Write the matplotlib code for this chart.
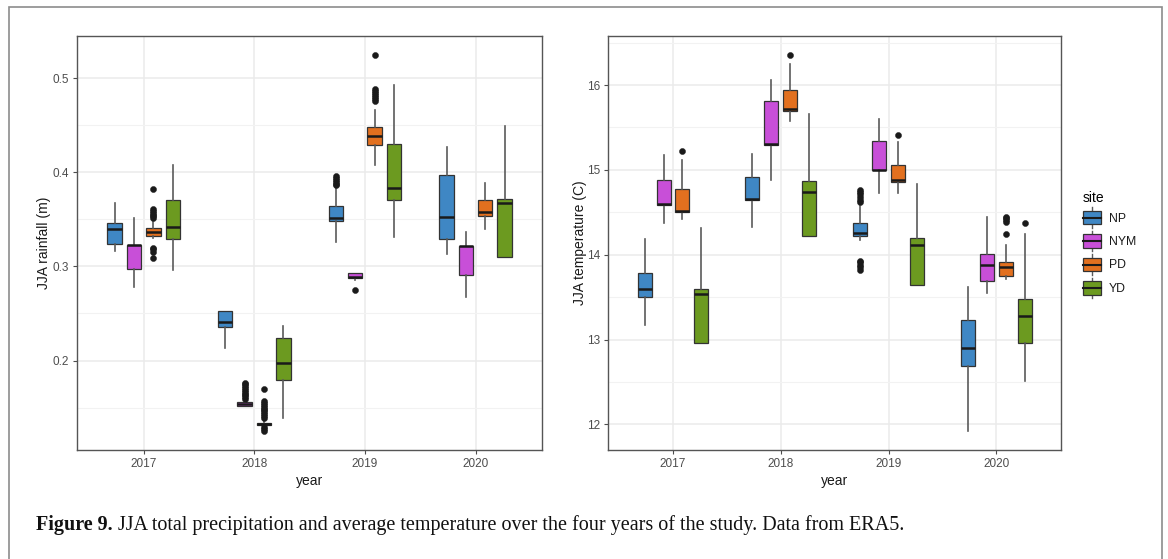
import matplotlib
matplotlib.use('Agg')
import matplotlib.pyplot as plt
from matplotlib.legend_handler import HandlerBase
from matplotlib.lines import Line2D
from matplotlib.patches import Patch, Rectangle
from matplotlib.ticker import FixedLocator, FormatStrFormatter

SITES = ['NP', 'NYM', 'PD', 'YD']
YEARS = ['2017', '2018', '2019', '2020']
COLORS = {'NP': '#3f87c4', 'NYM': '#c84fd8', 'PD': '#e2701f', 'YD': '#6c9a20'}

# JJA rainfall (m): box summary per site, one value per year
rain_whislo = {'NP': [0.316, 0.2134, 0.3255, 0.313],
               'NYM': [0.2777, 0.1516, 0.2855, 0.2675],
               'PD': [0.330, 0.1300, 0.4076, 0.3398],
               'YD': [0.296, 0.1386, 0.3317, 0.310]}
rain_q1 = {'NP': [0.3243, 0.236, 0.348, 0.3296],
           'NYM': [0.2975, 0.1516, 0.2872, 0.291],
           'PD': [0.3327, 0.1318, 0.4288, 0.3536],
           'YD': [0.329, 0.179, 0.370, 0.310]}
rain_med = {'NP': [0.3398, 0.2406, 0.3515, 0.352],
            'NYM': [0.3225, 0.1535, 0.289, 0.3215],
            'PD': [0.3363, 0.133, 0.439, 0.358],
            'YD': [0.342, 0.1975, 0.3833, 0.367]}
rain_q3 = {'NP': [0.3459, 0.2522, 0.3645, 0.3974],
           'NYM': [0.3232, 0.1558, 0.2929, 0.322],
           'PD': [0.3412, 0.1342, 0.448, 0.370],
           'YD': [0.370, 0.224, 0.4295, 0.372]}
rain_whishi = {'NP': [0.3677, 0.2530, 0.383, 0.427],
               'NYM': [0.3518, 0.1575, 0.2929, 0.336],
               'PD': [0.347, 0.1365, 0.466, 0.389],
               'YD': [0.408, 0.2363, 0.493, 0.449]}
rain_fliers = {
    'NP': [[], [], [0.386, 0.388, 0.390, 0.392, 0.394, 0.396], []],
    'NYM': [[], [0.159, 0.161, 0.163, 0.165, 0.167, 0.169, 0.171, 0.173,
                 0.175, 0.1765], [0.2752], []],
    'PD': [[0.351, 0.353, 0.355, 0.357, 0.359, 0.361, 0.382,
            0.3155, 0.318, 0.320, 0.309],
           [0.170, 0.157, 0.155, 0.153, 0.151, 0.149, 0.147, 0.145, 0.143,
            0.141, 0.139, 0.129, 0.127, 0.125],
           [0.476, 0.478, 0.480, 0.482, 0.484, 0.486, 0.488, 0.525], []],
    'YD': [[], [], [], []],
}

# JJA temperature (C)
temp_whislo = {'NP': [13.169, 14.326, 14.177, 11.92],
               'NYM': [14.369, 14.877, 14.727, 13.547],
               'PD': [14.417, 15.576, 14.727, 13.717],
               'YD': [12.962, 14.224, 13.646, 12.517]}
temp_q1 = {'NP': [13.504, 14.65, 14.22, 12.694],
           'NYM': [14.59, 15.29, 15.0, 13.689],
           'PD': [14.507, 15.70, 14.857, 13.744],
           'YD': [12.962, 14.224, 13.646, 12.962]}
temp_med = {'NP': [13.594, 14.656, 14.255, 12.903],
            'NYM': [14.597, 15.3, 15.003, 13.882],
            'PD': [14.519, 15.714, 14.877, 13.854],
            'YD': [13.532, 14.743, 14.12, 13.272]}
temp_q3 = {'NP': [13.783, 14.916, 14.378, 13.225],
           'NYM': [14.877, 15.812, 15.34, 14.012],
           'PD': [14.774, 15.942, 15.054, 13.913],
           'YD': [13.599, 14.865, 14.2, 13.48]}
temp_whishi = {'NP': [14.184, 15.19, 14.58, 13.618],
               'NYM': [15.172, 16.057, 15.596, 14.444],
               'PD': [15.12, 16.25, 15.33, 14.118],
               'YD': [14.314, 15.664, 14.838, 14.248]}
temp_fliers = {
    'NP': [[], [], [14.62, 14.65, 14.68, 14.71, 14.74, 14.767,
                    13.82, 13.85, 13.88, 13.91, 13.93], []],
    'NYM': [[], [], [], []],
    'PD': [[15.219], [16.36], [15.416], [14.385, 14.41, 14.43, 14.444, 14.248]],
    'YD': [[], [], [], [14.373]],
}

OFFSETS = [-0.2625, -0.0875, 0.0875, 0.2625]
BOX_W = 0.13
EDGE = '#333333'
WHISK = '#5a5a5a'


def draw_panel(ax, whislo, q1, med, q3, whishi, fliers, ylabel, majors, fmt,
               ylab_x):
    lo, hi = [], []
    for k, site in enumerate(SITES):
        stats = []
        for j in range(len(YEARS)):
            stats.append(dict(med=med[site][j], q1=q1[site][j], q3=q3[site][j],
                              whislo=whislo[site][j], whishi=whishi[site][j],
                              fliers=fliers[site][j]))
            lo.append(min([whislo[site][j]] + fliers[site][j]))
            hi.append(max([whishi[site][j]] + fliers[site][j]))
        pos = [j + 1 + OFFSETS[k] for j in range(len(YEARS))]
        ax.bxp(stats, positions=pos, widths=BOX_W, patch_artist=True,
               showcaps=False, manage_ticks=False,
               boxprops=dict(facecolor=COLORS[site], edgecolor=EDGE, lw=0.9),
               medianprops=dict(color='#1a1a1a', lw=1.8, solid_capstyle='butt'),
               whiskerprops=dict(color=WHISK, lw=1.2),
               flierprops=dict(marker='o', markerfacecolor='#1a1a1a',
                               markeredgecolor='#1a1a1a', markersize=4.4,
                               markeredgewidth=0.3),
               zorder=3)
    # ggplot-style 5% expansion on the continuous axis
    ymin, ymax = min(lo), max(hi)
    pad = 0.05 * (ymax - ymin)
    ax.set_ylim(ymin - pad, ymax + pad)
    ax.set_xlim(0.4, len(YEARS) + 0.6)

    ax.set_xticks(range(1, len(YEARS) + 1))
    ax.set_xticklabels(YEARS)
    ax.yaxis.set_major_locator(FixedLocator(majors))
    step = majors[1] - majors[0]
    minors = [majors[0] - step / 2] + [m + step / 2 for m in majors]
    ax.yaxis.set_minor_locator(FixedLocator(minors))
    ax.yaxis.set_major_formatter(FormatStrFormatter(fmt))
    ax.grid(True, which='major', color='#ebebeb', lw=1.1, zorder=0)
    ax.grid(True, which='minor', axis='y', color='#f2f2f2', lw=0.8, zorder=0)
    ax.tick_params(which='major', length=3, width=0.8, color='#4d4d4d',
                   labelcolor='#4d4d4d', labelsize=8.5, pad=3)
    ax.tick_params(which='minor', length=0)
    for s in ax.spines.values():
        s.set_color('#555555')
        s.set_linewidth(1.0)
    ax.set_axisbelow(True)
    ax.set_xlabel('year', fontsize=10, color='#1a1a1a')
    ax.set_ylabel(ylabel, fontsize=10, color='#1a1a1a')
    ax.xaxis.set_label_coords(0.5, -0.058)
    ax.yaxis.set_label_coords(ylab_x, 0.5)


class BoxKey(HandlerBase):
    def create_artists(self, legend, orig_handle, xdescent, ydescent,
                       width, height, fontsize, trans):
        x0, y0 = -xdescent, -ydescent
        cx = x0 + width / 2
        whisk = Line2D([cx, cx], [y0, y0 + height], color=WHISK, lw=1.0,
                       transform=trans)
        box = Rectangle((x0, y0 + 0.17 * height), width, 0.66 * height,
                        facecolor=orig_handle.get_facecolor(), edgecolor=EDGE,
                        lw=0.9, transform=trans)
        mid = Line2D([x0, x0 + width], [y0 + height / 2] * 2, color='#1a1a1a',
                     lw=1.5, transform=trans)
        return [whisk, box, mid]


plt.rcParams['font.family'] = ['Liberation Sans', 'DejaVu Sans']
fig = plt.figure(figsize=(11.68, 5.59), dpi=100)
W, H = 1168, 559

ax1 = fig.add_axes([77.3 / W, 1 - 450 / H, (542 - 77.3) / W, (450 - 35.7) / H])
ax2 = fig.add_axes([608.3 / W, 1 - 450 / H, (1061 - 608.3) / W, (450 - 35.7) / H])

draw_panel(ax1, rain_whislo, rain_q1, rain_med, rain_q3, rain_whishi,
           rain_fliers, 'JJA rainfall (m)', [0.2, 0.3, 0.4, 0.5], '%.1f',
           -0.057)
draw_panel(ax2, temp_whislo, temp_q1, temp_med, temp_q3, temp_whishi,
           temp_fliers, 'JJA temperature (C)', [12, 13, 14, 15, 16], '%d',
           -0.048)

handles = [Patch(facecolor=COLORS[s]) for s in SITES]
leg = fig.legend(handles, SITES, handler_map={Patch: BoxKey()},
                 title='site', loc='upper left',
                 bbox_to_anchor=(1074 / W, 1 - 182 / H),
                 frameon=False, fontsize=8.8, title_fontsize=10,
                 handlelength=1.55, handleheight=2.2, handletextpad=0.6,
                 labelspacing=0.24, borderpad=0.2)
leg._legend_box.align = 'left'
for t in leg.get_texts():
    t.set_color('#1a1a1a')

# outer frame of the figure
fig.patches.append(Rectangle((9 / W, -0.02), (1161.7 - 9) / W, 1.02 - 7 / H,
                             transform=fig.transFigure, fill=False,
                             edgecolor='#8c8c8c', lw=1.2))

serif = ['Liberation Serif', 'DejaVu Serif']
cap_y = 1 - 525 / H
t1 = fig.text(36 / W, cap_y, 'Figure 9.', fontsize=14.5, fontweight='bold',
              family=serif, va='center', color='#111111')
fig.canvas.draw()
bb = t1.get_window_extent(renderer=fig.canvas.get_renderer())
fig.text(bb.x1 / W + 5 / W, cap_y,
         'JJA total precipitation and average temperature over the four '
         'years of the study. Data from ERA5.',
         fontsize=14.5, family=serif, va='center', color='#111111')

fig.savefig('out.png', dpi=100)
